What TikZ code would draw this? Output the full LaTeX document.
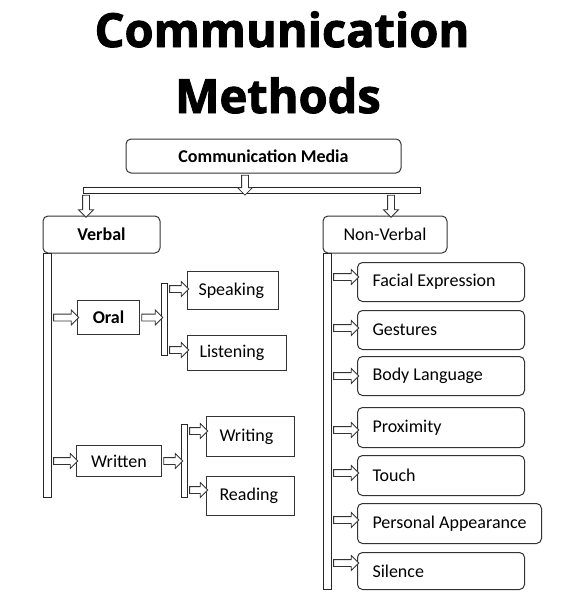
\documentclass[tikz,border=0pt]{standalone}
\usepackage{fontspec}
\setmainfont{Carlito}
\newfontfamily\titlefont{Open Sans}[FakeBold=2]
\usetikzlibrary{shapes.arrows,calc}
\newcommand\barrow[2]{%
  \path let \p1=(#1), \p2=(#2), \n1={veclen(\x2-\x1,\y2-\y1)}, \n2={atan2(\y2-\y1,\x2-\x1)} in
    node[barr, minimum height=\n1, rotate=\n2] at ({(\x1+\x2)/2},{(\y1+\y2)/2}) {};}
\begin{document}
\begin{tikzpicture}[x=1pt,y=-1pt,
  txt/.style={font=\fontsize{18}{20}\selectfont},
  btxt/.style={font=\bfseries\fontsize{18}{20}\selectfont},
  bx/.style={draw=black!80, line width=1pt, inner sep=0pt, txt},
  rbx/.style={bx, rounded corners=5pt},
  lbox/.style={bx, anchor=north west},
  bar/.style={draw=black!85, line width=0.9pt, inner sep=0pt, fill=white},
  barr/.style={single arrow, draw=black!80, fill=white, line width=0.8pt, inner xsep=0pt, inner ysep=3pt,
    minimum width=14pt, single arrow head extend=4pt, single arrow head indent=0pt},
  ttl/.style={font=\titlefont\bfseries\fontsize{47}{50}\selectfont}
]
\useasboundingbox (0,0) rectangle (564,597);
\fill[white] (0,0) rectangle (564,597);

% title
\node[ttl, anchor=base] (t1) at (282,47) {Communication};
\node[ttl, anchor=base] (t2) at (278,113) {Methods};

% top
\node[rbx, minimum width=275, minimum height=34, btxt] (cm) at (263.5,156) {Communication Media};
\node[bar, minimum width=337, minimum height=6] (topbar) at (251.5,190) {};
\node[rbx, minimum width=117, minimum height=37, btxt] (verbal) at (101.5,234.5) {Verbal};
\node[rbx, minimum width=124, minimum height=37] (nonverbal) at (385,234.5) {Non-Verbal};

\coordinate (cmout) at (245,173);
\barrow{cm.south -| cmout}{topbar.south -| cmout}
\coordinate (vin) at (86,0);
\coordinate (nvin) at (391,0);
\barrow{topbar.south -| vin}{verbal.north -| vin}
\barrow{topbar.south -| nvin}{nonverbal.north -| nvin}

% verbal bar
\node[bar, minimum width=8, minimum height=244, anchor=north west] (vbar) at (43,253) {};

% oral
\node[bx, minimum width=62, minimum height=34, anchor=north west, btxt] (oral) at (77,300) {Oral};
\node[bar, minimum width=6, minimum height=72, anchor=north west] (obar) at (161,283) {};
\node[lbox, minimum height=38] (speak) at (187,271) {\makebox[91pt][l]{\hspace*{11pt}Speaking}};
\node[lbox, minimum height=35] (listen) at (187,335) {\makebox[99pt][l]{\hspace*{12pt}Listening}};
\barrow{vbar.east |- oral}{oral.west}
\barrow{oral.east}{obar.west |- oral}
\coordinate (sp) at (0,289);
\coordinate (li) at (0,350);
\barrow{obar.east |- sp}{speak.west |- sp}
\barrow{obar.east |- li}{listen.west |- li}

% written
\node[bx, minimum width=85, minimum height=31, anchor=north west] (written) at (76,445) {Written};
\node[bar, minimum width=6, minimum height=73, anchor=north west] (wbar) at (181,424) {};
\node[lbox, minimum height=40] (writing) at (206,416) {\makebox[88pt][l]{\hspace*{13pt}Writing}};
\node[lbox, minimum height=39] (reading) at (206,476) {\makebox[88pt][l]{\hspace*{13pt}Reading}};
\barrow{vbar.east |- written}{written.west}
\barrow{written.east}{wbar.west |- written}
\coordinate (wr) at (0,431);
\coordinate (re) at (0,490);
\barrow{wbar.east |- wr}{writing.west |- wr}
\barrow{wbar.east |- re}{reading.west |- re}

% non-verbal
\node[bar, minimum width=8, minimum height=336, anchor=north west] (nvbar) at (323,253) {};
\foreach \nm/\txt/\ty/\th/\ay/\w in {
  fe/Facial Expression/262/39/277/167,
  ge/Gestures/310/39/328/167,
  bl/Body Language/356/39/376/167,
  pr/Proximity/407/40/430/167,
  to/Touch/455/40/473/167,
  pa/Personal Appearance/503/40/520/184,
  si/Silence/552/37/563/167}{
  \node[lbox, rounded corners=5pt, minimum height=\th] (\nm) at (357,\ty) {\makebox[\w pt][l]{\hspace*{15pt}\txt}};
  \coordinate (\nm a) at (0,\ay);
  \barrow{nvbar.east |- \nm a}{\nm.west |- \nm a}
}
\end{tikzpicture}
\end{document}
